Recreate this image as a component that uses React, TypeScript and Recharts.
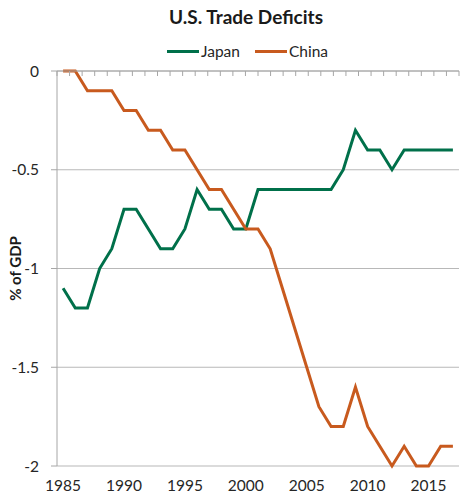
import {
  LineChart,
  Line,
  XAxis,
  YAxis,
  CartesianGrid,
  Legend,
} from "recharts";

const years = [
  1985, 1986, 1987, 1988, 1989, 1990, 1991, 1992, 1993, 1994, 1995, 1996, 1997,
  1998, 1999, 2000, 2001, 2002, 2003, 2004, 2005, 2006, 2007, 2008, 2009, 2010,
  2011, 2012, 2013, 2014, 2015, 2016, 2017,
];

// % of GDP
const japan = [
  -1.1, -1.2, -1.2, -1.0, -0.9, -0.7, -0.7, -0.8, -0.9, -0.9, -0.8, -0.6, -0.7,
  -0.7, -0.8, -0.8, -0.6, -0.6, -0.6, -0.6, -0.6, -0.6, -0.6, -0.5, -0.3, -0.4,
  -0.4, -0.5, -0.4, -0.4, -0.4, -0.4, -0.4,
];

const china = [
  0, 0, -0.1, -0.1, -0.1, -0.2, -0.2, -0.3, -0.3, -0.4, -0.4, -0.5, -0.6, -0.6,
  -0.7, -0.8, -0.8, -0.9, -1.1, -1.3, -1.5, -1.7, -1.8, -1.8, -1.6, -1.8, -1.9,
  -2.0, -1.9, -2.0, -2.0, -1.9, -1.9,
];

const yearTicks = [1985, 1990, 1995, 2000, 2005, 2010, 2015];
const valueTicks = [-2, -1.5, -1, -0.5, 0];
// boundaries between the yearly categories, for the tick marks along the zero line
const categoryEdges = years.map((_, i) => i).concat(years.length);

const data = years.map((year, i) => ({ year, Japan: japan[i], China: china[i] }));

const FONT = "Lato, 'Open Sans', sans-serif";
const GREEN = "#00704a";
const ORANGE = "#c85a1e";
const AXIS = "#a6a6a6";

const W = 461;
const H = 502;
const PLOT_LEFT = 57;
const PLOT_RIGHT = 2;
// half a category on each side so points sit in the middle of their slot
const halfSlot = (W - PLOT_LEFT - PLOT_RIGHT) / years.length / 2;

function LegendRow() {
  const items = [
    { name: "Japan", color: GREEN },
    { name: "China", color: ORANGE },
  ];
  return (
    <div
      style={{
        height: 29,
        display: "flex",
        justifyContent: "center",
        paddingLeft: 36,
        fontFamily: FONT,
        fontSize: 15.5,
        color: "#262626",
        lineHeight: "18px",
      }}
    >
      {items.map((it, i) => (
        <div
          key={it.name}
          style={{ display: "flex", alignItems: "center", height: 18, marginRight: i === 0 ? 15 : 0 }}
        >
          <span style={{ width: 32, height: 3, background: it.color, marginRight: 2 }} />
          <span>{it.name}</span>
        </div>
      ))}
    </div>
  );
}

export default function App() {
  return (
    <div style={{ position: "absolute", left: 0, top: 0, width: W, height: H, background: "#fff" }}>
      <div
        style={{
          position: "absolute",
          left: 246,
          top: 5,
          transform: "translateX(-50%)",
          fontFamily: FONT,
          fontWeight: 700,
          fontSize: 19,
          lineHeight: "24px",
          color: "#1a1a1a",
          whiteSpace: "nowrap",
        }}
      >
        U.S. Trade Deficits
      </div>
      <LineChart
        width={W}
        height={H}
        data={data}
        margin={{ top: 42, right: PLOT_RIGHT, bottom: 0, left: 0 }}
      >
        <CartesianGrid vertical={false} stroke="#b8b8b8" strokeWidth={1.2} />
        <XAxis
          dataKey="year"
          ticks={yearTicks}
          interval={0}
          padding={{ left: halfSlot, right: halfSlot }}
          axisLine={false}
          tickLine={false}
          tickSize={0}
          tickMargin={14}
          height={36}
          tick={{ fill: "#262626", fontSize: 15.5, fontFamily: FONT }}
        />
        {/* zero line with a short mark at every category boundary, marks pointing down */}
        <XAxis
          xAxisId="edges"
          type="number"
          orientation="top"
          mirror
          domain={[0, years.length]}
          allowDataOverflow
          ticks={categoryEdges}
          interval={0}
          tick={() => <g />}
          tickSize={5}
          height={1}
          stroke={AXIS}
        />
        <YAxis
          width={PLOT_LEFT}
          domain={[-2, 0]}
          ticks={valueTicks}
          interval={0}
          tickSize={6}
          tickMargin={12}
          stroke={AXIS}
          tick={{ fill: "#262626", fontSize: 15.5, fontFamily: FONT }}
          label={{
            content: (props: any) => {
              const vb = props.viewBox || {};
              const cx = 15;
              const cy = (vb.y ?? 0) + (vb.height ?? 0) / 2;
              return (
                <text
                  x={cx}
                  y={cy}
                  transform={`rotate(-90 ${cx} ${cy})`}
                  textAnchor="middle"
                  dominantBaseline="central"
                  fontFamily={FONT}
                  fontWeight={700}
                  fontSize={15}
                  fill="#1a1a1a"
                >
                  % of GDP
                </text>
              );
            },
          }}
        />
        <Legend verticalAlign="top" content={() => <LegendRow />} />
        <Line
          dataKey="Japan"
          stroke={GREEN}
          strokeWidth={3}
          dot={false}
          type="linear"
          isAnimationActive={false}
        />
        <Line
          dataKey="China"
          stroke={ORANGE}
          strokeWidth={3}
          dot={false}
          type="linear"
          isAnimationActive={false}
        />
      </LineChart>
    </div>
  );
}
